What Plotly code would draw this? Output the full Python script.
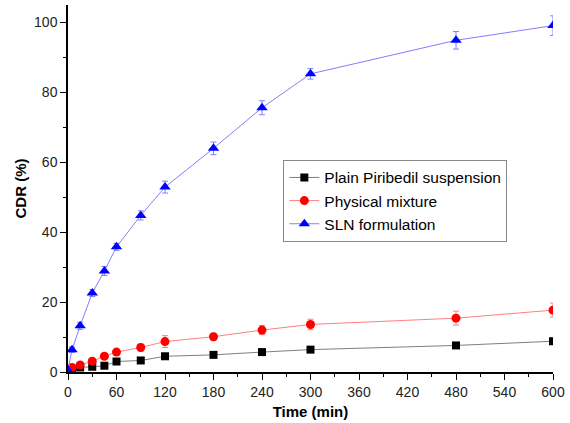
import plotly.graph_objects as go

time_sln = [0, 5, 15, 30, 45, 60, 90, 120, 180, 240, 300, 480, 600]
sln = [0.5, 6.4, 13.2, 22.6, 28.9, 35.8, 44.8, 52.9, 64.0, 75.6, 85.3, 94.9, 99.1]
sln_err = [0.3, 0.8, 1.0, 1.0, 1.3, 1.0, 1.3, 1.7, 1.8, 2.0, 1.5, 2.5, 2.8]

time_pm = [5, 15, 30, 45, 60, 90, 120, 180, 240, 300, 480, 600]
pm = [1.3, 2.0, 3.1, 4.5, 5.7, 7.0, 8.7, 10.1, 12.0, 13.6, 15.4, 17.7]
pm_err = [0.4, 0.5, 0.6, 0.6, 0.7, 1.0, 1.7, 1.0, 1.3, 1.5, 2.0, 2.0]

time_pl = [5, 15, 30, 45, 60, 90, 120, 180, 240, 300, 480, 600]
pl = [0.9, 1.3, 1.5, 1.8, 3.0, 3.3, 4.5, 4.9, 5.7, 6.4, 7.6, 8.8]
pl_err = [0.2, 0.3, 0.3, 0.3, 0.4, 0.4, 0.5, 0.4, 0.5, 0.5, 0.6, 0.6]

fig = go.Figure()
fig.add_trace(go.Scatter(
    x=time_pl, y=pl, name="Plain Piribedil suspension", mode="lines+markers",
    line=dict(color="#7f7f7f", width=1),
    marker=dict(symbol="square", size=8, color="black"),
    error_y=dict(type="data", array=pl_err, color="#7f7f7f", thickness=1, width=3),
))
fig.add_trace(go.Scatter(
    x=time_pm, y=pm, name="Physical mixture", mode="lines+markers",
    line=dict(color="#ff8080", width=1),
    marker=dict(symbol="circle", size=9, color="#ff0000"),
    error_y=dict(type="data", array=pm_err, color="#ff8080", thickness=1, width=3),
))
fig.add_trace(go.Scatter(
    x=time_sln, y=sln, name="SLN formulation", mode="lines+markers",
    line=dict(color="#8080ff", width=1),
    marker=dict(symbol="triangle-up", size=10, color="#0000ff"),
    error_y=dict(type="data", array=sln_err, color="#8080ff", thickness=1, width=3),
))

axis_font = dict(family="Liberation Sans, Arial", size=14, color="#222222")
fig.update_layout(
    width=570, height=423,
    margin=dict(l=68, r=12, t=5, b=49),
    paper_bgcolor="white", plot_bgcolor="white",
    font=axis_font,
    showlegend=True,
    legend=dict(x=0.444, y=0.578, xanchor="left", yanchor="top",
                bordercolor="#888888", borderwidth=1, bgcolor="white",
                font=dict(family="Liberation Sans, Arial", size=15.5, color="black"),
                tracegroupgap=0, itemwidth=30),
    xaxis=dict(range=[0, 600], tickmode="linear", tick0=0, dtick=60,
               showline=True, linecolor="black", linewidth=1.5,
               ticks="outside", ticklen=6, tickcolor="black",
               showgrid=False, zeroline=False,
               minor=dict(dtick=30, ticks="outside", ticklen=3, tickcolor="black", showgrid=False),
               title=dict(text="<b>Time (min)</b>", font=dict(family="Liberation Sans, Arial", size=15, color="black"), standoff=8)),
    yaxis=dict(range=[0, 105], tickmode="linear", tick0=0, dtick=20,
               showline=True, linecolor="black", linewidth=1.5,
               ticks="outside", ticklen=6, tickcolor="black",
               showgrid=False, zeroline=False,
               minor=dict(dtick=10, ticks="outside", ticklen=3, tickcolor="black", showgrid=False),
               title=dict(text="<b>CDR (%)</b>", font=dict(family="Liberation Sans, Arial", size=15, color="black"), standoff=4)),
)

fig.write_html("out.html")
